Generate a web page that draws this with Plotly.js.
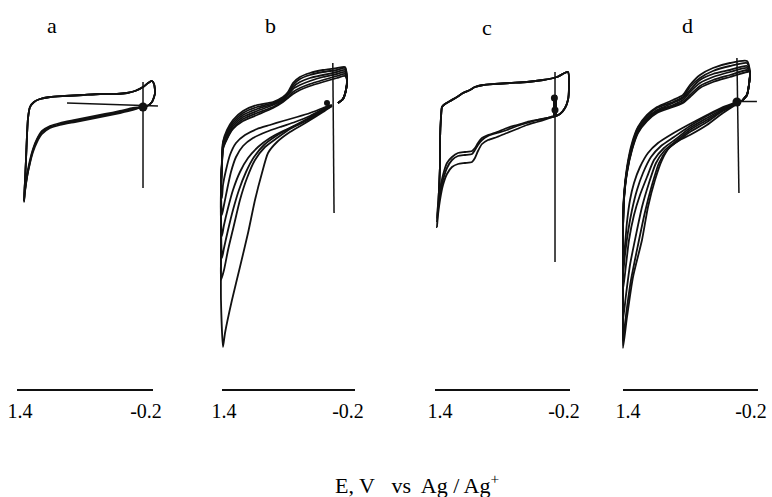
<!DOCTYPE html>
<html><head><meta charset="utf-8">
<script src="https://cdn.plot.ly/plotly-3.0.1.min.js"></script>
<style>html,body{margin:0;padding:0;background:#fff}#chart{width:772px;height:497px}</style>
</head><body><div id="chart"></div>
<script>
// ---------- shared labels ----------
const panelLabels = ['a', 'b', 'c', 'd'];
const tickVals = [1.4, -0.2];
const tickText = ['1.4', '-0.2'];
const xTitle = 'E, V\u00a0\u00a0 vs\u00a0 Ag / Ag<sup>+</sup>';

// ---------- panel a (E in V, I in a.u.) ----------
const aUpperE = [-0.149, -0.213, -0.276, -0.315, -0.302, -0.276, -0.226, -0.162, -0.061, 0.041, 0.168, 0.384, 0.600, 0.829, 1.019, 1.146, 1.222, 1.273, 1.298, 1.311, 1.324, 1.337];
const aUpperI = [-2, -1, 3, 12, 21, 24, 22, 18, 14, 12, 11, 11, 10, 9, 8, 6, 3, -2, -13, -30, -55, -77];
const aReturnE = [1.349, 1.337, 1.311, 1.273, 1.235, 1.184, 1.121, 1.019, 0.892, 0.702, 0.511, 0.321, 0.130, -0.035, -0.149];
const aReturnI1 = [-97, -87, -72, -57, -45, -35, -27, -22, -19, -16, -13, -10, -7, -4, -2];
const aReturnI2 = [-95, -85, -70, -55, -44, -34, -26, -21, -18, -15, -12, -9, -6, -3, -2];
const aReturnI3 = [-96, -86, -72, -58, -47, -37, -29, -23, -20, -17, -14, -11, -8, -5, -2];
const aZeroE = [0.803, -0.352];
const aZeroI = [2, -1];
const aVertE = [-0.162, -0.162];
const aVertI = [23, -83];
const aDotE = [-0.162];
const aDotI = [-2];

// ---------- panel b ----------
const bLoopE = [-0.071, -0.135, -0.174, -0.187];
const bLoopI = [2, 6, 15, 25];
const bUpperE = [-0.161, -0.058, 0.123, 0.291, 0.420, 0.510, 0.574, 0.639, 0.768, 0.974, 1.155, 1.284, 1.361, 1.413, 1.426];
const bUpperI1 = [29, 27, 23, 19, 15, 11, 7, 3, -3, -10, -16, -24, -34, -44, -60];
const bUpperI2 = [31, 29, 25, 21, 17, 13, 8, 4, -2, -8, -14, -23, -33, -43, -59];
const bUpperI3 = [33, 31, 28, 24, 20, 16, 10, 5, 0, -6, -12, -21, -31, -41, -58];
const bUpperI4 = [35, 33, 30, 27, 23, 18, 11, 6, 1, -4, -10, -19, -29, -40, -57];
const bUpperI5 = [37, 35, 33, 30, 26, 20, 12, 7, 2, -2, -8, -17, -27, -38, -56];
const bUpperI6 = [38, 37, 35, 32, 28, 22, 13, 8, 3, 0, -6, -15, -25, -37, -55];
const bLeftE1 = [1.439, 1.439, 1.439, 1.439, 1.413, 1.387, 1.297, 1.194, 1.090, 1.000, 0.910, 0.832, 0.716, 0.549, 0.329, 0.123, 0.007];
const bLeftI1 = [-85, -115, -155, -195, -242, -228, -195, -162, -128, -95, -68, -48, -37, -27, -17, -7, -1];
const bLeftE2 = [1.439, 1.439, 1.439, 1.439, 1.400, 1.348, 1.271, 1.194, 1.103, 1.000, 0.871, 0.716, 0.549, 0.329, 0.123, 0.007];
const bLeftI2 = [-85, -115, -155, -175, -165, -145, -120, -95, -73, -55, -42, -33, -24, -15, -6, -1];
const bLeftE3 = [1.439, 1.439, 1.426, 1.400, 1.348, 1.284, 1.207, 1.116, 1.013, 0.884, 0.729, 0.549, 0.329, 0.123, 0.007];
const bLeftI3 = [-85, -115, -153, -143, -125, -105, -85, -67, -52, -40, -31, -23, -14, -5, 0];
const bLeftE4 = [1.439, 1.439, 1.426, 1.400, 1.348, 1.284, 1.194, 1.090, 0.961, 0.807, 0.639, 0.458, 0.291, 0.123, 0.007];
const bLeftI4 = [-85, -115, -131, -120, -103, -85, -67, -53, -42, -33, -26, -20, -14, -5, 0];
const bLeftE5 = [1.439, 1.426, 1.400, 1.361, 1.310, 1.245, 1.155, 1.026, 0.858, 0.678, 0.484, 0.291, 0.123, 0.020];
const bLeftI5 = [-85, -110, -100, -85, -67, -52, -41, -33, -27, -22, -17, -11, -4, 0];
const bLeftE6 = [1.439, 1.426, 1.413, 1.374, 1.323, 1.245, 1.129, 0.974, 0.807, 0.639, 0.458, 0.291, 0.123, 0.033];
const bLeftI6 = [-80, -93, -80, -65, -50, -38, -30, -24, -20, -16, -12, -8, -3, 0];
const bVertE = [-0.004, -0.020];
const bVertI = [42, -108];
const bDotE = [0.071];
const bDotI = [2];

// ---------- panel c ----------
const cUpperE = [-0.058, -0.148, -0.213, -0.251, -0.264, -0.251, -0.109, 0.071, 0.278, 0.497, 0.691, 0.845, 0.949, 1.013, 1.103, 1.181, 1.271, 1.336, 1.374, 1.387, 1.400, 1.400, 1.413, 1.426];
const cUpperI = [-12, -9, -3, 5, 17, 33, 28, 25, 23, 22, 21, 20, 18, 15, 12, 8, 4, 1, -2, -12, -35, -60, -85, -105];
const cReturnE = [1.439, 1.426, 1.400, 1.361, 1.310, 1.245, 1.168, 1.078, 0.987, 0.949, 0.910, 0.858, 0.781, 0.665, 0.536, 0.407, 0.278, 0.149, 0.020, -0.058];
const cReturnI1 = [-122, -110, -95, -80, -69, -62, -59, -58, -57, -53, -46, -39, -35, -32, -28, -24, -20, -17, -14, -12];
const cReturnI2 = [-117, -105, -90, -75, -63, -55, -51, -50, -49, -45, -40, -35, -31, -28, -25, -21, -18, -15, -13, -12];
const cReturnI3 = [-113, -100, -85, -70, -58, -52, -48, -47, -46, -43, -38, -33, -30, -27, -23, -20, -17, -15, -13, -11];
const cVertE = [-0.084, -0.084];
const cVertI = [33, -157];
const cThickE = [-0.084, -0.084];
const cThickI = [10, -12];
const cDotE = [-0.084, -0.076];
const cDotI = [-5, 7];

// ---------- panel d ----------
const dLoopE = [-0.082, -0.147, -0.173, -0.186];
const dLoopI = [4, 10, 20, 33];
const dUpperE = [-0.147, 0.074, 0.295, 0.464, 0.594, 0.685, 0.815, 1.023, 1.153, 1.270, 1.348, 1.413, 1.452];
const dUpperI1 = [33, 28, 23, 17, 8, 2, -2, -8, -16, -28, -45, -68, -95];
const dUpperI2 = [35, 30, 25, 19, 10, 3, -1, -7, -15, -27, -44, -67, -94];
const dUpperI3 = [37, 33, 28, 22, 13, 5, 0, -6, -14, -26, -43, -66, -93];
const dUpperI4 = [39, 35, 31, 25, 15, 7, 2, -5, -13, -25, -41, -65, -92];
const dUpperI5 = [42, 39, 34, 27, 18, 8, 3, -3, -11, -23, -40, -64, -91];
const dUpperI6 = [44, 42, 37, 30, 20, 10, 5, -2, -10, -22, -38, -62, -90];
const dLeftE1 = [1.465, 1.465, 1.465, 1.465, 1.465, 1.413, 1.335, 1.218, 1.140, 1.049, 0.958, 0.854, 0.724, 0.594, 0.373, 0.165, -0.017];
const dLeftI1 = [-125, -155, -185, -215, -243, -212, -172, -135, -102, -75, -55, -42, -35, -30, -20, -8, 1];
const dLeftE2 = [1.465, 1.465, 1.465, 1.465, 1.465, 1.426, 1.361, 1.270, 1.179, 1.088, 0.997, 0.893, 0.750, 0.594, 0.373, 0.165, -0.017];
const dLeftI2 = [-125, -155, -185, -215, -235, -210, -175, -140, -107, -80, -58, -45, -36, -27, -17, -6, 1];
const dLeftE3 = [1.465, 1.465, 1.465, 1.465, 1.426, 1.374, 1.296, 1.218, 1.127, 1.036, 0.919, 0.776, 0.594, 0.373, 0.165, -0.017];
const dLeftI3 = [-125, -155, -185, -215, -190, -160, -130, -102, -78, -58, -45, -36, -25, -15, -5, 2];
const dLeftE4 = [1.465, 1.465, 1.465, 1.426, 1.387, 1.322, 1.244, 1.153, 1.062, 0.932, 0.776, 0.594, 0.373, 0.165, -0.017];
const dLeftI4 = [-125, -155, -185, -160, -135, -110, -90, -72, -55, -43, -34, -23, -13, -4, 2];
const dLeftE5 = [1.465, 1.465, 1.465, 1.439, 1.400, 1.348, 1.283, 1.205, 1.101, 0.971, 0.802, 0.594, 0.373, 0.165, -0.017];
const dLeftI5 = [-125, -155, -170, -150, -127, -105, -85, -68, -52, -41, -32, -21, -11, -3, 2];
const dLeftE6 = [1.465, 1.465, 1.465, 1.439, 1.413, 1.374, 1.322, 1.244, 1.140, 1.010, 0.828, 0.620, 0.373, 0.165, -0.017];
const dLeftI6 = [-125, -150, -160, -140, -117, -95, -78, -62, -48, -38, -29, -20, -10, -2, 3];
const dZeroE = [-0.017, -0.277];
const dZeroI = [3.5, 3.5];
const dVertE = [-0.017, -0.043];
const dVertI = [47, -88];
const dDotE = [-0.017];
const dDotI = [3];

// ---------- layout geometry (pixels) ----------
const W = 772, H = 497;
const FONT = 'Liberation Serif, Times New Roman, serif';
const geom = [
  {data: [5, 165], line: [17, 153], p14: 20, pm02: 146},
  {data: [210, 370], line: [222, 355], p14: 224, pm02: 348},
  {data: [425, 590], line: [435, 570], p14: 440, pm02: 564},
  {data: [612, 772], line: [623, 758], p14: 628, pm02: 751}
];
const labelPos = [[52, 25], [270, 25], [487, 27], [687, 25]];
const yBottomPx = 389, yTopPx = 10, yZeroPx = 105;

function pxToE(g, px) { return 1.4 - (px - g.p14) * 1.6 / (g.pm02 - g.p14); }

const black = '#111';
function curve(E, I, xa, w) {
  return {type: 'scatter', mode: 'lines', x: E, y: I, xaxis: xa, yaxis: 'y',
    line: {color: black, width: w || 1.8, shape: 'spline', smoothing: 0.6},
    hoverinfo: 'skip', showlegend: false};
}
function straight(E, I, xa, w) {
  return {type: 'scatter', mode: 'lines', x: E, y: I, xaxis: xa, yaxis: 'y',
    line: {color: black, width: w || 1.5}, hoverinfo: 'skip', showlegend: false};
}
function dots(E, I, xa, size) {
  return {type: 'scatter', mode: 'markers', x: E, y: I, xaxis: xa, yaxis: 'y',
    marker: {color: black, size: size}, hoverinfo: 'skip', showlegend: false};
}

const traces = [];
// panel a
[aReturnI1, aReturnI2, aReturnI3].forEach(ri => {
  traces.push(curve(aUpperE.concat(aReturnE), aUpperI.concat(ri), 'x'));
});
traces.push(straight(aZeroE, aZeroI, 'x'));
traces.push(straight(aVertE, aVertI, 'x'));
traces.push(dots(aDotE, aDotI, 'x', 9));
// panel b
const bUp = [bUpperI1, bUpperI2, bUpperI3, bUpperI4, bUpperI5, bUpperI6];
const bLE = [bLeftE1, bLeftE2, bLeftE3, bLeftE4, bLeftE5, bLeftE6];
const bLI = [bLeftI1, bLeftI2, bLeftI3, bLeftI4, bLeftI5, bLeftI6];
for (let k = 0; k < 6; k++) {
  traces.push(curve(bLoopE.concat(bUpperE, bLE[k]), bLoopI.concat(bUp[k], bLI[k]), 'x2'));
}
traces.push(straight(bVertE, bVertI, 'x2'));
traces.push(dots(bDotE, bDotI, 'x2', 6));
// panel c
[cReturnI1, cReturnI2, cReturnI3].forEach(ri => {
  traces.push(curve(cUpperE.concat(cReturnE), cUpperI.concat(ri), 'x3'));
});
traces.push(straight(cVertE, cVertI, 'x3'));
traces.push(straight(cThickE, cThickI, 'x3', 4));
traces.push(dots(cDotE, cDotI, 'x3', 7));
// panel d
const dUp = [dUpperI1, dUpperI2, dUpperI3, dUpperI4, dUpperI5, dUpperI6];
const dLE = [dLeftE1, dLeftE2, dLeftE3, dLeftE4, dLeftE5, dLeftE6];
const dLI = [dLeftI1, dLeftI2, dLeftI3, dLeftI4, dLeftI5, dLeftI6];
for (let k = 0; k < 6; k++) {
  traces.push(curve(dLoopE.concat(dUpperE, dLE[k]), dLoopI.concat(dUp[k], dLI[k]), 'x4'));
}
traces.push(straight(dZeroE, dZeroI, 'x4'));
traces.push(straight(dVertE, dVertI, 'x4'));
traces.push(dots(dDotE, dDotI, 'x4', 9));

const layout = {
  width: W, height: H,
  margin: {l: 0, r: 0, t: 0, b: 0},
  paper_bgcolor: '#fff', plot_bgcolor: 'rgba(0,0,0,0)',
  showlegend: false,
  font: {family: FONT, color: '#000'},
  yaxis: {domain: [(H - yBottomPx) / H, (H - yTopPx) / H], range: [yZeroPx - yBottomPx, yZeroPx - yTopPx],
          visible: false, anchor: 'x', fixedrange: true},
  annotations: []
};
geom.forEach((g, i) => {
  const dn = i === 0 ? 'xaxis' : 'xaxis' + (i + 1);
  layout[dn] = {domain: [g.data[0] / W, g.data[1] / W], range: [pxToE(g, g.data[0]), pxToE(g, g.data[1])],
                visible: false, anchor: 'y', fixedrange: true};
  const sn = 'xaxis' + (i + 5);
  layout[sn] = {domain: [g.line[0] / W, g.line[1] / W], range: [pxToE(g, g.line[0]), pxToE(g, g.line[1])],
                anchor: 'y', showline: true, linecolor: black, linewidth: 1.5, ticks: '',
                tickmode: 'array', tickvals: tickVals, ticktext: tickText,
                tickfont: {family: FONT, size: 20, color: '#000'},
                showgrid: false, zeroline: false, fixedrange: true, ticklabelstandoff: 3};
  traces.push({type: 'scatter', mode: 'markers', x: tickVals, y: [0, 0], xaxis: 'x' + (i + 5), yaxis: 'y',
               marker: {opacity: 0, size: 1}, hoverinfo: 'skip', showlegend: false});
  layout.annotations.push({text: panelLabels[i], xref: 'paper', yref: 'paper',
    x: labelPos[i][0] / W, y: 1 - labelPos[i][1] / H, xanchor: 'center', yanchor: 'middle',
    showarrow: false, font: {family: FONT, size: 22, color: '#000'}});
});
layout.annotations.push({text: xTitle, xref: 'paper', yref: 'paper', x: 417 / W, y: 1 - 484 / H,
  xanchor: 'center', yanchor: 'middle', showarrow: false, font: {family: FONT, size: 22, color: '#000'}});

Plotly.newPlot('chart', traces, layout, {staticPlot: true, displayModeBar: false});
</script></body></html>
